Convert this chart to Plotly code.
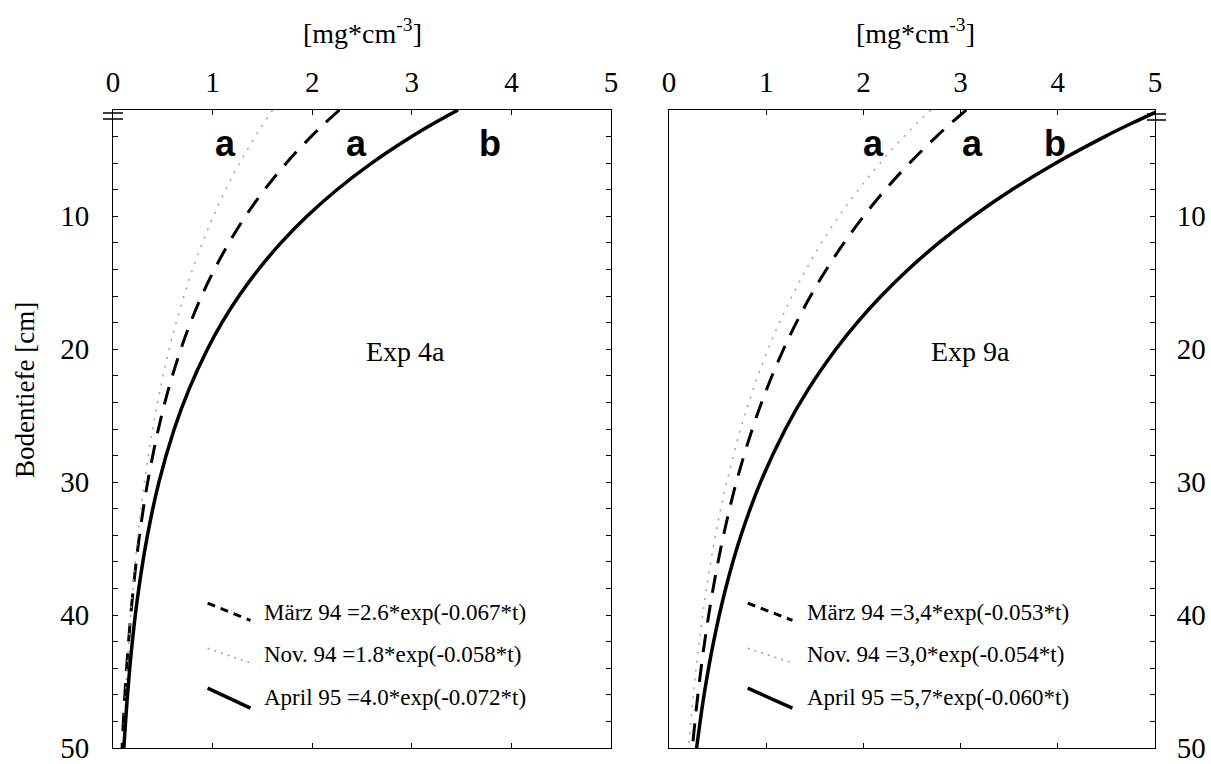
import plotly.graph_objects as go

# ---- data ----
depth = [2, 3, 4, 6, 8, 10, 12, 14, 16, 18, 20, 23, 26, 30, 34, 38, 42, 46, 50]

exp4a_maerz94 = [2.274, 2.127, 1.989, 1.739, 1.521, 1.330, 1.164, 1.018, 0.890, 0.778,
                 0.681, 0.557, 0.456, 0.348, 0.266, 0.204, 0.156, 0.119, 0.091]
exp4a_nov94 = [1.603, 1.513, 1.427, 1.271, 1.132, 1.008, 0.897, 0.799, 0.712, 0.634,
               0.564, 0.474, 0.398, 0.316, 0.251, 0.199, 0.158, 0.125, 0.099]
exp4a_april95 = [3.464, 3.223, 2.999, 2.597, 2.248, 1.947, 1.686, 1.460, 1.264, 1.094,
                 0.948, 0.764, 0.615, 0.461, 0.346, 0.259, 0.194, 0.146, 0.109]

exp9a_maerz94 = [3.058, 2.900, 2.751, 2.474, 2.225, 2.001, 1.800, 1.619, 1.456, 1.310,
                 1.178, 1.005, 0.857, 0.693, 0.561, 0.454, 0.367, 0.297, 0.240]
exp9a_nov94 = [2.693, 2.551, 2.417, 2.170, 1.948, 1.748, 1.569, 1.409, 1.265, 1.135,
               1.019, 0.866, 0.737, 0.594, 0.478, 0.386, 0.311, 0.250, 0.202]
exp9a_april95 = [5.055, 4.761, 4.484, 3.977, 3.527, 3.128, 2.775, 2.461, 2.183, 1.936,
                 1.717, 1.434, 1.198, 0.942, 0.741, 0.583, 0.459, 0.361, 0.284]

legend_left = ["März 94 =2.6*exp(-0.067*t)", "Nov. 94 =1.8*exp(-0.058*t)", "April 95 =4.0*exp(-0.072*t)"]
legend_right = ["März 94 =3,4*exp(-0.053*t)", "Nov. 94 =3,0*exp(-0.054*t)", "April 95 =5,7*exp(-0.060*t)"]
group_letters = ["a", "a", "b"]
panel_labels = ["Exp 4a", "Exp 9a"]
x_ticks = [0, 1, 2, 3, 4, 5]
y_ticks = [10, 20, 30, 40, 50]

SERIF = "Liberation Serif"
SANS = "Liberation Sans"

styles = [
    dict(color="black", width=3, dash="18px,12px"),   # März 94
    dict(color="#a0a0a0", width=1.5, dash="2px,7px"),  # Nov. 94
    dict(color="black", width=3.5, dash="solid"),      # April 95
]

fig = go.Figure()
panels = [
    ("x", "y", [exp4a_maerz94, exp4a_nov94, exp4a_april95]),
    ("x2", "y2", [exp9a_maerz94, exp9a_nov94, exp9a_april95]),
]
for xa, ya, series in panels:
    for vals, st in zip(series, styles):
        fig.add_trace(go.Scatter(x=vals, y=depth, mode="lines", line=dict(shape="spline", **st),
                                 xaxis=xa, yaxis=ya, showlegend=False, hoverinfo="skip"))

W, H = 1211, 764
top_px, bot_px = 110, 748
ydom = [1 - bot_px / H, 1 - top_px / H]

axis_common = dict(showgrid=False, zeroline=False, showline=True, linecolor="black", linewidth=1,
                   ticks="inside", ticklen=5, tickcolor="black", ticklabeloverflow="allow",
                   automargin=False,
                   tickfont=dict(family=SERIF, size=29, color="black"))

fig.update_layout(
    width=W, height=H, margin=dict(l=0, r=0, t=0, b=0, autoexpand=False),
    paper_bgcolor="white", plot_bgcolor="white",
    xaxis=dict(domain=[113 / W, 611 / W], range=[0, 5], side="top", tickvals=x_ticks,
               mirror="ticks", anchor="y", ticklabelstandoff=5, **axis_common),
    yaxis=dict(domain=ydom, range=[50, 2], tickvals=y_ticks, mirror="ticks", anchor="x",
               ticklabelstandoff=17,
               minor=dict(ticks="inside", dtick=2, tick0=0, ticklen=5, tickcolor="black"),
               **axis_common),
    xaxis2=dict(domain=[669 / W, 1155 / W], range=[0, 5], side="top", tickvals=x_ticks,
                mirror="ticks", anchor="y2", ticklabelstandoff=5, **axis_common),
    yaxis2=dict(domain=ydom, range=[50, 2], tickvals=y_ticks, side="right", mirror=True,
                anchor="x2", ticklabelstandoff=15,
                minor=dict(ticks="inside", dtick=2, tick0=0, ticklen=5, tickcolor="black"),
                **axis_common),
)

annotations = []
# axis titles
for cx in [362 / W, 915 / W]:
    annotations.append(dict(text="[mg*cm<sup>-3</sup>]", x=cx, y=1 - 12 / H, xref="paper", yref="paper",
                            xanchor="center", yanchor="top", showarrow=False,
                            font=dict(family=SERIF, size=28, color="black")))
annotations.append(dict(text="Bodentiefe [cm]", x=25 / W, y=1 - 390 / H, xref="paper", yref="paper",
                        xanchor="center", yanchor="middle",
                        textangle=-90, showarrow=False, font=dict(family=SERIF, size=27, color="black")))

# panel labels
annotations.append(dict(text=panel_labels[0], x=2.94, y=20.2, xref="x", yref="y", showarrow=False,
                        font=dict(family=SERIF, size=28, color="black")))
annotations.append(dict(text=panel_labels[1], x=3.10, y=20.2, xref="x2", yref="y2", showarrow=False,
                        font=dict(family=SERIF, size=28, color="black")))

# group letters
for xs, xr, yr in [([1.13, 2.44, 3.79], "x", "y"), ([2.10, 3.12, 3.97], "x2", "y2")]:
    for lx, letter in zip(xs, group_letters):
        annotations.append(dict(text="<b>%s</b>" % letter, x=lx, y=4.5, xref=xr, yref=yr, showarrow=False,
                                font=dict(family=SANS, size=36, color="black")))

# legend texts
leg_y = [39.8, 43.0, 46.2]
for txts, tx, xr, yr in [(legend_left, 1.50, "x", "y"), (legend_right, 1.40, "x2", "y2")]:
    for t, ly in zip(txts, leg_y):
        annotations.append(dict(text=t, x=tx, y=ly, xref=xr, yref=yr, xanchor="left", showarrow=False,
                                font=dict(family=SERIF, size=23, color="black")))

shapes = []
# legend sample lines (slanted)
seg_y = [(39.1, 40.4), (42.5, 43.6), (45.5, 47.0)]
for (x0, x1), xr, yr in [((0.95, 1.38), "x", "y"), ((0.81, 1.27), "x2", "y2")]:
    for (y0, y1), st in zip(seg_y, styles):
        dash = {"18px,12px": "8px,6px", "2px,7px": "2px,5px"}.get(st["dash"], st["dash"])
        shapes.append(dict(type="line", xref=xr, yref=yr, x0=x0, x1=x1, y0=y0, y1=y1,
                           line=dict(color=st["color"], width=st["width"], dash=dash)))

# axis break marks "=" (paper coordinates)
for xa, xb, ys in [(103, 123, (113, 119)), (1147, 1166, (114, 120))]:
    for yy in ys:
        shapes.append(dict(type="line", xref="paper", yref="paper", x0=xa / W, x1=xb / W,
                           y0=1 - yy / H, y1=1 - yy / H, line=dict(color="black", width=1.5)))

fig.update_layout(annotations=annotations, shapes=shapes)
fig.write_html("out.html")
